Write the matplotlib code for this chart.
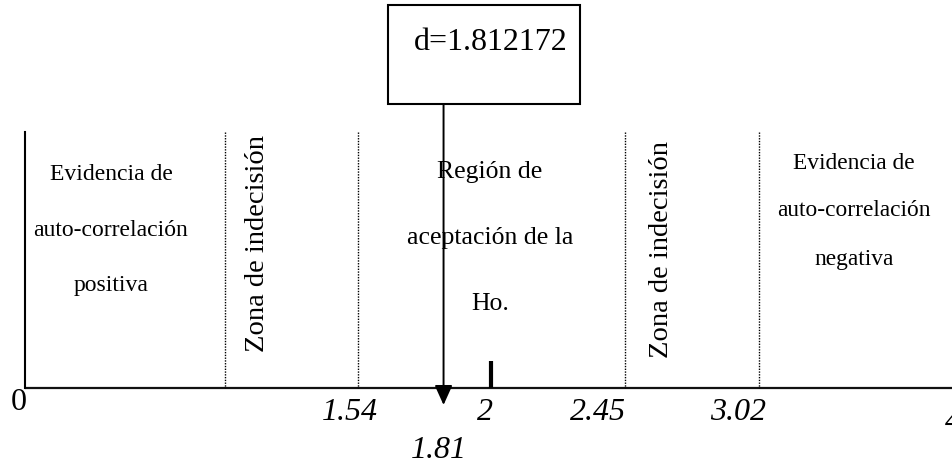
import numpy as np
import matplotlib
matplotlib.use('Agg')
import matplotlib.pyplot as plt
from matplotlib.patches import Rectangle

# Durbin-Watson decision regions
d_value = 1.812172
d_label = '1.81'
bounds = [0.98, 1.54, 2.45, 3.02]          # dL, dU, 4-dU, 4-dL
tick_vals = [0, 1.54, 2, 2.45, 3.02, 4]
tick_text = ['0', '1.54', '2', '2.45', '3.02', '4']
box_text = 'd=%.6f' % d_value
left_text = ['Evidencia de', 'auto-correlación', 'positiva']
mid_text = ['Región de', 'aceptación de la', 'Ho.']
right_text = ['Evidencia de', 'auto-correlación', 'negativa']
zone_text = 'Zona de indecisión'

# hand drawn scale: value -> pixel knots
kv = [-0.12, 0, 0.98, 1.54, 1.81, 2, 2.45, 3.02, 4.0]
kp = [0, 25, 225, 358, 443, 491, 625, 759, 953]

W, H = 953, 466


def fwd(v):
    return np.interp(v, kv, kp)


def inv(p):
    return np.interp(p, kp, kv)


def main():
    plt.rcParams['font.family'] = ['Liberation Serif', 'DejaVu Serif']
    fig = plt.figure(figsize=(W / 100, H / 100), dpi=100)
    ax = fig.add_axes([0, 0, 1, 1])
    ax.set_xscale('function', functions=(fwd, inv))
    ax.set_xlim(kv[0], kv[-1])
    ax.set_ylim(H, 0)
    ax.axis('off')

    base_y, top_y = 388, 132
    ax.plot([0, 4], [base_y, base_y], color='#111111', lw=1.6, solid_capstyle='butt')
    ax.plot([0, 0], [top_y, base_y], color='black', lw=1.5)
    for b in bounds:
        ax.plot([b, b], [top_y, base_y], color='black', lw=1.0, ls=(0, (1, 1)))
    # tick at 2
    ax.plot([2, 2], [361, base_y], color='black', lw=3.0, solid_capstyle='butt')

    # arrow from box to d
    ax.annotate('', xy=(d_value, 405), xytext=(d_value, 104),
                arrowprops=dict(arrowstyle='-|>,head_length=0.6,head_width=0.27',
                                mutation_scale=20, color='black', lw=1.4,
                                shrinkA=0, shrinkB=0))

    def px(x, y):
        return x / W, 1 - y / H

    box = Rectangle(px(388, 104), 192 / W, 99 / H, transform=fig.transFigure,
                    fill=False, edgecolor='black', lw=1.5)
    fig.patches.append(box)
    fig.text(*px(491, 42), box_text, fontsize=23, ha='center', va='center')

    # tick labels
    lab_dx = [-6, -8, -6, -27, -21, 0]
    lab_y = [403, 412, 412, 412, 412, 423]
    for v, t, dx, y in zip(tick_vals, tick_text, lab_dx, lab_y):
        x = fwd(v) + dx
        fig.text(*px(x, y), t, fontsize=23, ha='center', va='center',
                 style='normal' if t == '0' else 'italic')
    fig.text(*px(fwd(d_value) - 5, 450), d_label, fontsize=23, ha='center',
             va='center', style='italic')

    # region texts
    for i, t in enumerate(left_text):
        fig.text(*px(111, 175 + 55 * i), t, fontsize=17, ha='center', va='center')
    for i, t in enumerate(mid_text):
        fig.text(*px(490, 172 + 66 * i), t, fontsize=18.5, ha='center', va='center')
    for i, t in enumerate(right_text):
        fig.text(*px(854, 163 + 48 * i), t, fontsize=16.8, ha='center', va='center')
    fig.text(*px(258, 244), zone_text, fontsize=20.5, rotation=90, ha='center', va='center')
    fig.text(*px(662, 249), zone_text, fontsize=20.5, rotation=90, ha='center', va='center')

    fig.savefig('out.png', dpi=100)


if __name__ == '__main__':
    main()
